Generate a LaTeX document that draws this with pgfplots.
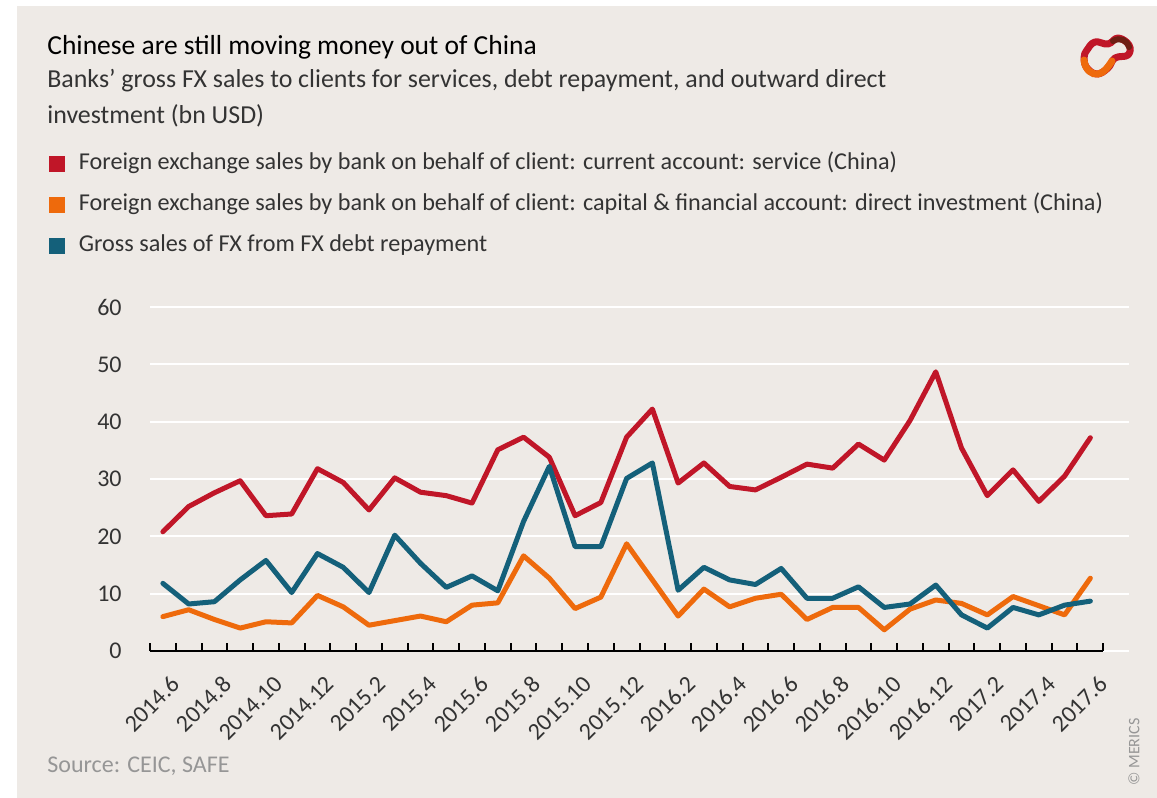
\documentclass[border=0pt]{standalone}
\usepackage{pgfplots}
\pgfplotsset{compat=1.18}
\usepackage{pgfplotstable}
\usepackage{fontspec}
\setmainfont{Carlito}

\definecolor{mbg}{RGB}{238,234,230}
\definecolor{mred}{RGB}{192,22,40}
\definecolor{morange}{RGB}{238,106,12}
\definecolor{mteal}{RGB}{20,96,122}
\definecolor{mtext}{RGB}{51,51,51}
\definecolor{msrc}{RGB}{150,150,150}
\definecolor{mdark}{RGB}{110,30,20}

% month index (0 = 2014.6), bn USD
\pgfplotstableread{
i  service  direct  debt
0  20.8  6.0  11.8
1  25.2  7.2  8.2
2  27.6  5.5  8.6
3  29.7  4.0  12.4
4  23.6  5.1  15.8
5  23.9  4.9  10.2
6  31.8  9.7  17.0
7  29.4  7.7  14.6
8  24.6  4.5  10.2
9  30.2  5.3  20.2
10 27.7  6.1  15.3
11 27.1  5.1  11.1
12 25.8  8.0  13.1
13 35.1  8.4  10.5
14 37.3  16.6 22.6
15 33.8  12.7 32.2
16 23.6  7.4  18.2
17 25.9  9.4  18.2
18 37.3  18.7 30.1
19 42.2  12.4 32.8
20 29.3  6.1  10.6
21 32.8  10.8 14.6
22 28.7  7.7  12.4
23 28.1  9.2  11.6
24 30.3  9.9  14.4
25 32.6  5.5  9.2
26 31.9  7.6  9.2
27 36.1  7.6  11.2
28 33.3  3.7  7.6
29 40.2  7.3  8.2
30 48.7  8.9  11.5
31 35.4  8.3  6.3
32 27.1  6.3  4.0
33 31.6  9.5  7.6
34 26.1  7.9  6.3
35 30.5  6.3  8.0
36 37.2  12.7 8.7
}\fxdata

\begin{document}
\begin{tikzpicture}
% canvas in pixel units, origin top left
\begin{scope}[x=0.5pt,y=-0.5pt]
\fill[white] (0,0) rectangle (1157,798);
\fill[mbg] (17,6) rectangle (1157,798);
\node[anchor=west,inner sep=0pt,font=\fontsize{13.75}{15}\selectfont,text=black] at (47,47) {Chinese are still moving money out of China};
\node[anchor=west,inner sep=0pt,font=\fontsize{12.95}{15}\selectfont,text=mtext] at (47,81) {Banks’ gross FX sales to clients for services, debt repayment, and outward direct};
\node[anchor=west,inner sep=0pt,font=\fontsize{12.95}{15}\selectfont,text=mtext] at (47,116) {investment (bn USD)};
\node[anchor=west,inner sep=0pt,font=\fontsize{12}{14}\selectfont,text=msrc] at (47,766) {Source: CEIC, SAFE};
\node[rotate=90,inner sep=0pt,font=\fontsize{8}{10}\selectfont,text=msrc] at (1134,752) {© MERICS};
% logo
\draw[mred,line width=3.5pt,line join=round] plot[smooth cycle,tension=0.7] coordinates {(1087,50) (1095,42) (1108,44) (1118,38) (1129,45) (1128,55) (1115,58) (1108,68) (1097,74) (1087,68) (1084,58)};
\draw[mdark,line width=3pt,line cap=round] (1113,41) .. controls (1120,37) and (1127,40) .. (1129,47);
\draw[morange,line width=3.5pt,line cap=round] (1084,60) .. controls (1085,70) and (1092,75) .. (1098,74) .. controls (1104,73) and (1108,67) .. (1112,61);
\end{scope}

\begin{axis}[
  at={(75pt,-325.5pt)}, anchor=south west,
  scale only axis, width=489.5pt, height=172pt,
  xmin=-0.5, xmax=37.5, ymin=0, ymax=60,
  axis x line*=bottom, axis y line*=left,
  axis line style={draw=none},
  xtick={0,2,...,36},
  xticklabels={2014.6,2014.8,2014.10,2014.12,2015.2,2015.4,2015.6,2015.8,2015.10,2015.12,2016.2,2016.4,2016.6,2016.8,2016.10,2016.12,2017.2,2017.4,2017.6},
  major x tick style={draw=none},
  minor xtick={-0.5,0.5,...,36.5},
  minor tick length=4pt, tick align=inside,
  minor x tick style={black,line width=1pt},
  ytick={0,10,...,60},
  ytick style={draw=none},
  ymajorgrids, grid style={white,line width=1pt},
  /pgf/number format/assume math mode=true,
  yticklabel style={anchor=east,inner sep=0pt,xshift=-14pt,text=mtext,font=\fontsize{12}{14}\selectfont},
  xticklabel style={inner sep=0pt,xshift=3.5pt,yshift=-11.5pt,rotate=45,anchor=north east,text=mtext,font=\fontsize{12}{14}\selectfont},
  legend cell align=left,
  legend style={at={(-0.1032,1.45)},anchor=north west,draw=none,fill=none,inner sep=0pt,
    row sep=9.5pt,font=\fontsize{12.1}{14}\selectfont,text=mtext,
    nodes={inner sep=0pt,text height=8.5pt,text depth=2.5pt}},
  legend image code/.code={\fill[draw=none] (0pt,-4pt) rectangle (8pt,4pt); \path (13.5pt,0pt);},
  every axis plot/.append style={line width=2.5pt,line join=round,line cap=round},
]
\addplot[color=mred] table[x=i,y=service] {\fxdata};
\addlegendentry{Foreign exchange sales by bank on behalf of client: current account: service (China)}
\addplot[color=morange] table[x=i,y=direct] {\fxdata};
\addlegendentry{Foreign exchange sales by bank on behalf of client: capital \& financial account: direct investment (China)}
\addplot[color=mteal] table[x=i,y=debt] {\fxdata};
\addlegendentry{Gross sales of FX from FX debt repayment}
\draw[black,line width=1pt] (axis cs:-0.5,0) -- (axis cs:36.5,0);
\end{axis}
\end{tikzpicture}
\end{document}
